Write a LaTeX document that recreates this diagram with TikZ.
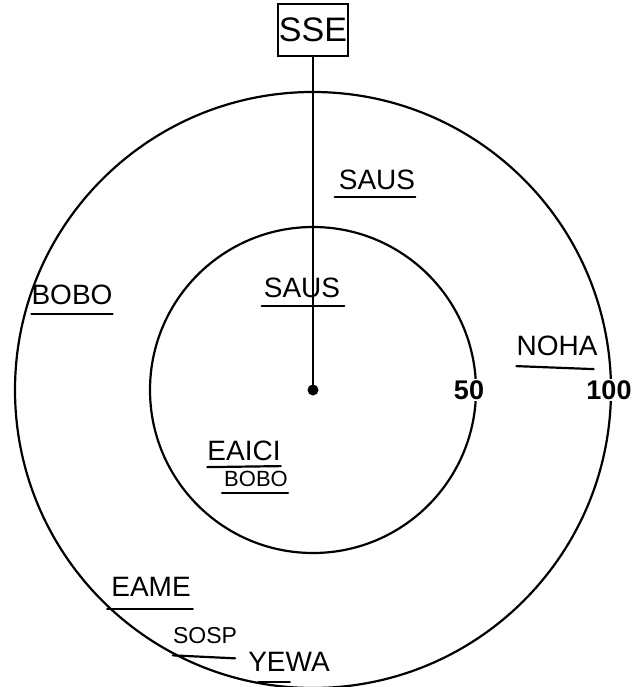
\documentclass[tikz,border=0pt]{standalone}
\usepackage{fontspec}
\setmainfont{Liberation Sans}
\begin{document}
\begin{tikzpicture}[x=1pt,y=-1pt,
  ring/.style={line width=2.2pt},
  hand/.style={font=\fontsize{28}{28}\selectfont, inner sep=0pt, anchor=center},
  ticklabel/.style={font=\fontsize{27}{27}\selectfont\bfseries, fill=white, inner sep=1.5pt},
  ul/.style={line width=2.2pt, line cap=round},
  boxed/.style={draw, line width=1.5pt, minimum width=70pt, minimum height=52pt, inner sep=0pt, font=\fontsize{34}{34}\selectfont}]
\useasboundingbox (0,0) rectangle (637,687);
\coordinate (c) at (313,390);
\draw[ring] (c) circle[radius=298pt];
\draw[ring] (c) circle[radius=163pt];
\node[boxed] (sse) at (313,30) {SSE};
\node[circle, fill, inner sep=0pt, minimum size=11pt] (dot) at (c) {};
\draw[line width=2pt] (sse.south) -- (dot.center);
\node[ticklabel] (n50) at (469,390) {50};
\node[ticklabel] (n100) at (609,390) {100};
% handwritten labels
\node[hand] (saus1) at (377,180) {SAUS};
\draw[ul] ([xshift=-4pt,yshift=-7pt]saus1.south west) -- ([xshift=0pt,yshift=-7pt]saus1.south east);
\node[hand] (saus2) at (302,288) {SAUS};
\draw[ul] ([xshift=-2pt,yshift=-8pt]saus2.south west) -- ([xshift=4pt,yshift=-8pt]saus2.south east);
\node[hand] (bobo1) at (72,295) {BOBO};
\draw[ul] ([xshift=0pt,yshift=-9pt]bobo1.south west) -- ([xshift=0pt,yshift=-9pt]bobo1.south east);
\node[hand] (noha) at (557,346) {NOHA};
\draw[ul] ([xshift=0pt,yshift=-10pt]noha.south west) -- ([xshift=-4pt,yshift=-13pt]noha.south east);
\node[hand] (eaici) at (244,451) {EAICI};
\draw[ul] ([xshift=0pt,yshift=-6pt]eaici.south west) -- ([xshift=0pt,yshift=-5pt]eaici.south east);
\node[hand, font=\fontsize{22}{22}\selectfont] (bobo2) at (256,479) {BOBO};
\draw[ul] ([xshift=-2pt,yshift=-6pt]bobo2.south west) -- ([xshift=0pt,yshift=-6pt]bobo2.south east);
\node[hand] (eame) at (151,587) {EAME};
\draw[ul] ([xshift=-4pt,yshift=-12pt]eame.south west) -- ([xshift=2pt,yshift=-12pt]eame.south east);
\node[hand, font=\fontsize{23}{23}\selectfont] (sosp) at (205,636) {SOSP};
\draw[ul] ([xshift=0pt,yshift=-11pt]sosp.south west) -- ([xshift=-2pt,yshift=-14pt]sosp.south east);
\node[hand] (yewa) at (289,662) {YEWA};
\draw[ul] ([xshift=10pt,yshift=-10pt]yewa.south west) -- ([xshift=-40pt,yshift=-10pt]yewa.south east);
\end{tikzpicture}
\end{document}
